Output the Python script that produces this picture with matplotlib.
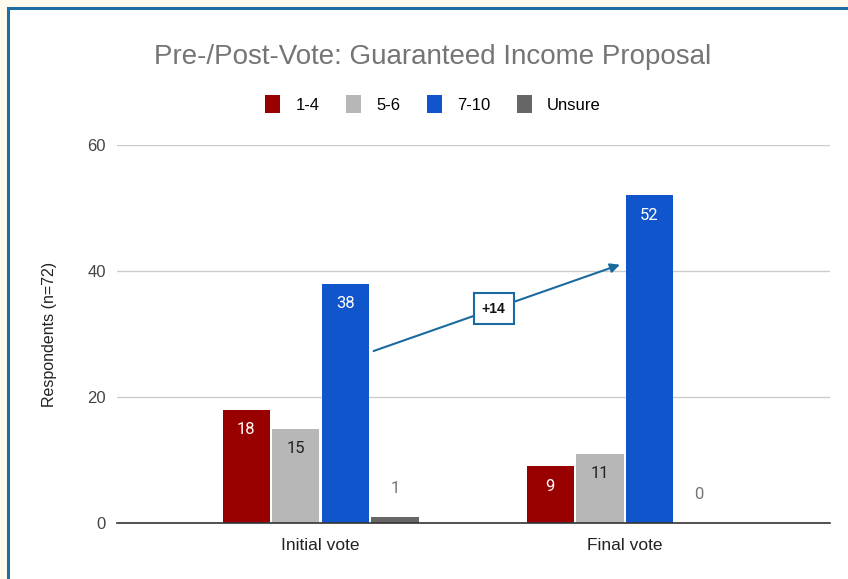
import matplotlib.pyplot as plt
from matplotlib.patches import Rectangle, Patch
import numpy as np

# survey responses before and after the vote
groups = ["Initial vote", "Final vote"]
series = ["1-4", "5-6", "7-10", "Unsure"]
low = [18, 9]
mid = [15, 11]
high = [38, 52]
unsure = [1, 0]
colors = ["#990000", "#b7b7b7", "#1155cc", "#666666"]
label_colors = ["white", "#222222", "white", "#757575"]
change_text = "+14"

plt.rcParams["font.family"] = ["Liberation Sans", "DejaVu Sans"]

fig = plt.figure(figsize=(8.48, 5.79), dpi=100)
fig.patch.set_facecolor("#fffbee")

# white card with blue border, running off the right/bottom edge
card = Rectangle((8 / 848, -0.1), 1.2, 1.1 - 8 / 579, transform=fig.transFigure,
                 facecolor="white", edgecolor="#1c6ea4", linewidth=2.2, zorder=-1)
fig.patches.append(card)

ax = fig.add_axes([117 / 848, 1 - 523 / 579, (830 - 117) / 848, (523 - 145) / 579])
ax.set_facecolor("white")

x = np.arange(len(groups))
step = 0.163
width = 0.155
all_vals = [low, mid, high, unsure]
for i, (vals, c, lc) in enumerate(zip(all_vals, colors, label_colors)):
    pos = x + (i - 1.5) * step
    ax.bar(pos, vals, width=width, color=c, zorder=3)
    for p, v in zip(pos, vals):
        if i == 3:
            ax.text(p, v + 4.5, str(v), ha="center", va="center", fontsize=12,
                    color=lc, zorder=4, family="Roboto")
        else:
            ax.text(p, v - 3.2, str(v), ha="center", va="center", fontsize=12,
                    color=lc, zorder=4, family="Roboto")

ax.set_xlim(-0.67, 1.675)
ax.set_ylim(0, 60)
ax.set_yticks([0, 20, 40, 60])
ax.set_xticks(x)
ax.set_xticklabels(groups, fontsize=12.5, color="#222222")
ax.tick_params(axis="y", length=0, labelsize=12, labelcolor="#444444", pad=8)
ax.tick_params(axis="x", length=0, pad=11)
ax.grid(axis="y", color="#cccccc", linewidth=1, zorder=0)
for s in ["top", "right", "left"]:
    ax.spines[s].set_visible(False)
ax.spines["bottom"].set_color("#333333")
ax.spines["bottom"].set_linewidth(1.2)
ax.spines["bottom"].set_zorder(5)
ax.set_ylabel("Respondents (n=72)", fontsize=11.5, color="#222222", labelpad=22)

# change in 7-10 responses
ax.annotate("", xy=(0.984, 41), xytext=(0.174, 27.3),
            arrowprops=dict(arrowstyle="-|>", color="#1a6aa0", lw=1.5,
                            mutation_scale=14, shrinkA=0, shrinkB=0), zorder=6)
ax.text(0.569, 34, change_text, ha="center", va="center", fontsize=10,
        fontweight="bold", color="#111111", zorder=7,
        bbox=dict(boxstyle="square,pad=0.6", facecolor="white",
                  edgecolor="#1a6aa0", linewidth=1.5))

fig.text(433 / 848, 1 - 57 / 579, "Pre-/Post-Vote: Guaranteed Income Proposal",
         ha="center", va="center", fontsize=20, color="#757575")

handles = [Patch(facecolor=c, edgecolor="none") for c in colors]
fig.legend(handles, series, loc="center", bbox_to_anchor=(433 / 848, 1 - 104 / 579),
           ncol=4, frameon=False, fontsize=12, handlelength=0.9, handleheight=1.2,
           handletextpad=0.9, columnspacing=1.6)

fig.savefig("out.png", dpi=100, facecolor=fig.get_facecolor())
